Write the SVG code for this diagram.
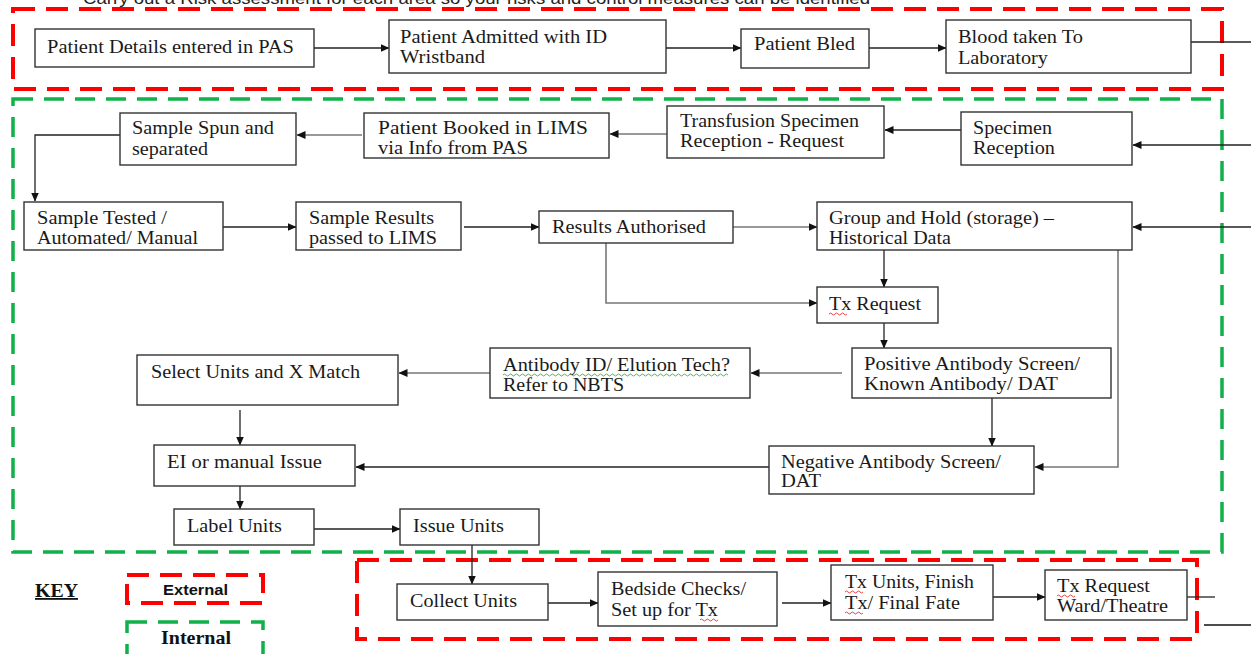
<svg xmlns="http://www.w3.org/2000/svg" width="1251" height="654" viewBox="0 0 1251 654">
<defs>
<marker id="ah" markerWidth="9" markerHeight="8" refX="8.5" refY="4" orient="auto" markerUnits="userSpaceOnUse">
<path d="M0,0 L9,4 L0,8 Z" fill="#111"/>
</marker>
<style>
.box{fill:#fff;stroke:#333;stroke-width:1.4}
.t{font-family:"Liberation Serif","Times New Roman",serif;font-size:18.5px;fill:#1a1a1a}
.c{fill:none;stroke:#222;stroke-width:1.3}
.g{fill:none;stroke:#777;stroke-width:1.6}
.ext{fill:none;stroke:#ff0000;stroke-width:4;stroke-dasharray:22 11}
.int{fill:none;stroke:#10b04a;stroke-width:3.5;stroke-dasharray:20 11}
.wr{fill:none;stroke:#e03030;stroke-width:0.9}
.wg{fill:none;stroke:#40b040;stroke-width:0.9}
</style>
</defs>
<rect width="1251" height="654" fill="#fff"/>
<text x="83" y="4" font-family="Liberation Sans,Arial,sans-serif" font-size="16" fill="#222" textLength="787" lengthAdjust="spacingAndGlyphs">Carry out a Risk assessment  for each area so  your risks  and control measures  can be identified</text>

<g id="regions">
<rect class="ext" x="13" y="9" width="1209" height="80"/>
<rect class="int" x="13" y="99" width="1209" height="453"/>
<rect class="ext" x="357" y="560" width="840" height="79"/>
</g>

<g id="connectors">
<line class="c" x1="314" y1="48" x2="389" y2="48" marker-end="url(#ah)"/>
<line class="c" x1="666" y1="48" x2="741" y2="48" marker-end="url(#ah)"/>
<line class="c" x1="869" y1="48" x2="946" y2="48" marker-end="url(#ah)"/>
<line class="c" x1="1191" y1="42" x2="1251" y2="42"/>
<line class="c" x1="1251" y1="145" x2="1133" y2="145" marker-end="url(#ah)"/>
<line class="c" x1="961" y1="130" x2="885" y2="130" marker-end="url(#ah)"/>
<line class="g" x1="667" y1="134" x2="610" y2="134" marker-end="url(#ah)"/>
<line class="g" x1="362" y1="135" x2="297" y2="135" marker-end="url(#ah)"/>
<polyline class="c" points="120,135 35,135 35,201" marker-end="url(#ah)"/>
<line class="c" x1="223" y1="227" x2="296" y2="227" marker-end="url(#ah)"/>
<line class="c" x1="464" y1="227" x2="539" y2="227" marker-end="url(#ah)"/>
<line class="g" x1="733" y1="227" x2="817" y2="227" marker-end="url(#ah)"/>
<line class="c" x1="1251" y1="227" x2="1133" y2="227" marker-end="url(#ah)"/>
<polyline class="g" points="606,243 606,303 817,303" marker-end="url(#ah)"/>
<line class="c" x1="884" y1="250" x2="884" y2="287" marker-end="url(#ah)"/>
<polyline class="g" points="1118,250 1118,467 1035,467" marker-end="url(#ah)"/>
<line class="c" x1="884" y1="323" x2="884" y2="348" marker-end="url(#ah)"/>
<line class="g" x1="842" y1="373" x2="751" y2="373" marker-end="url(#ah)"/>
<line class="g" x1="490" y1="373" x2="399" y2="373" marker-end="url(#ah)"/>
<line class="c" x1="992" y1="398" x2="992" y2="446" marker-end="url(#ah)"/>
<line class="c" x1="240" y1="410" x2="240" y2="445" marker-end="url(#ah)"/>
<line class="c" x1="769" y1="467" x2="356" y2="467" marker-end="url(#ah)"/>
<line class="c" x1="240" y1="486" x2="240" y2="509" marker-end="url(#ah)"/>
<line class="c" x1="314" y1="529" x2="400" y2="529" marker-end="url(#ah)"/>
<line class="c" x1="472" y1="545" x2="472" y2="584" marker-end="url(#ah)"/>
<line class="c" x1="548" y1="603" x2="598" y2="603" marker-end="url(#ah)"/>
<line class="c" x1="782" y1="603" x2="831" y2="603" marker-end="url(#ah)"/>
<line class="c" x1="993" y1="597" x2="1045" y2="597" marker-end="url(#ah)"/>
<line class="c" x1="1187" y1="597" x2="1215" y2="597"/>
<line x1="1204" y1="625" x2="1251" y2="625" stroke="#111" stroke-width="1.6"/>
</g>

<g id="n1"><rect class="box" x="35" y="29" width="279" height="38"/><text class="t" x="47" y="53" textLength="247" lengthAdjust="spacingAndGlyphs">Patient Details  entered in PAS</text></g>
<g id="n2"><rect class="box" x="389" y="20" width="277" height="53"/><text class="t" x="400" y="43" textLength="207" lengthAdjust="spacingAndGlyphs">Patient Admitted with ID</text><text class="t" x="400" y="63" textLength="85" lengthAdjust="spacingAndGlyphs">Wristband</text></g>
<g id="n3"><rect class="box" x="741" y="29" width="128" height="39"/><text class="t" x="754" y="50" textLength="101" lengthAdjust="spacingAndGlyphs">Patient Bled</text></g>
<g id="n4"><rect class="box" x="946" y="20" width="245" height="53"/><text class="t" x="958" y="43" textLength="125" lengthAdjust="spacingAndGlyphs">Blood taken To</text><text class="t" x="958" y="64" textLength="90" lengthAdjust="spacingAndGlyphs">Laboratory</text></g>

<g id="n5"><rect class="box" x="961" y="112" width="171" height="53"/><text class="t" x="973" y="134" textLength="79" lengthAdjust="spacingAndGlyphs">Specimen</text><text class="t" x="973" y="154" textLength="82" lengthAdjust="spacingAndGlyphs">Reception</text></g>
<g id="n6"><rect class="box" x="667" y="106" width="217" height="52"/><text class="t" x="680" y="127" textLength="179" lengthAdjust="spacingAndGlyphs">Transfusion  Specimen</text><text class="t" x="680" y="147" textLength="164" lengthAdjust="spacingAndGlyphs">Reception - Request</text></g>
<g id="n7"><rect class="box" x="364" y="113" width="245" height="45"/><text class="t" x="378" y="134" textLength="210" lengthAdjust="spacingAndGlyphs">Patient Booked in LIMS</text><text class="t" x="378" y="154" textLength="150" lengthAdjust="spacingAndGlyphs">via Info from PAS</text></g>
<g id="n8"><rect class="box" x="120" y="113" width="176" height="52"/><text class="t" x="132" y="134" textLength="142" lengthAdjust="spacingAndGlyphs">Sample Spun and</text><text class="t" x="132" y="155" textLength="76" lengthAdjust="spacingAndGlyphs">separated</text></g>

<g id="n9"><rect class="box" x="24" y="202" width="199" height="48"/><text class="t" x="37" y="224" textLength="130" lengthAdjust="spacingAndGlyphs">Sample Tested /</text><text class="t" x="37" y="244" textLength="161" lengthAdjust="spacingAndGlyphs">Automated/ Manual</text></g>
<g id="n10"><rect class="box" x="296" y="202" width="165" height="48"/><text class="t" x="309" y="224" textLength="125" lengthAdjust="spacingAndGlyphs">Sample Results</text><text class="t" x="309" y="244" textLength="128" lengthAdjust="spacingAndGlyphs">passed to LIMS</text></g>
<g id="n11"><rect class="box" x="539" y="211" width="194" height="32"/><text class="t" x="552" y="233" textLength="154" lengthAdjust="spacingAndGlyphs">Results Authorised</text></g>
<g id="n12"><rect class="box" x="817" y="202" width="315" height="48"/><text class="t" x="829" y="224" textLength="225" lengthAdjust="spacingAndGlyphs">Group and Hold (storage) –</text><text class="t" x="829" y="244" textLength="122" lengthAdjust="spacingAndGlyphs">Historical Data</text></g>

<g id="n13"><rect class="box" x="817" y="287" width="121" height="36"/><text class="t" x="829" y="310" textLength="92" lengthAdjust="spacingAndGlyphs">Tx Request</text><path class="wr" d="M829,314 q1.5,-2 3,0 t3,0 t3,0 t3,0 t3,0 t3,0"/></g>

<g id="n14"><rect class="box" x="852" y="348" width="259" height="50"/><text class="t" x="864" y="370" textLength="216" lengthAdjust="spacingAndGlyphs">Positive Antibody Screen/</text><text class="t" x="864" y="390" textLength="194" lengthAdjust="spacingAndGlyphs">Known Antibody/ DAT</text></g>
<g id="n15"><rect class="box" x="490" y="348" width="260" height="50"/><text class="t" x="503" y="371" textLength="227" lengthAdjust="spacingAndGlyphs">Antibody ID/ Elution Tech?</text><text class="t" x="503" y="391" textLength="121" lengthAdjust="spacingAndGlyphs">Refer to NBTS</text><path class="wg" d="M503,375 q1.5,-2 3,0 t3,0 t3,0 t3,0 t3,0 t3,0 t3,0 t3,0 t3,0 t3,0 t3,0 t3,0 t3,0 t3,0 t3,0 t3,0 t3,0 t3,0 t3,0 t3,0 t3,0 t3,0 t3,0 t3,0 t3,0 t3,0 t3,0 t3,0 t3,0 t3,0 t3,0 t3,0 t3,0 t3,0 t3,0 t3,0 t3,0 t3,0 t3,0 t3,0 t3,0 t3,0 t3,0 t3,0 t3,0 t3,0 t3,0 t3,0 t3,0 t3,0 t3,0 t3,0 t3,0 t3,0 t3,0 t3,0 t3,0 t3,0 t3,0 t3,0 t3,0 t3,0 t3,0 t3,0 t3,0 t3,0 t3,0 t3,0 t3,0 t3,0 t3,0 t3,0 t3,0 t3,0 t3,0"/></g>
<g id="n16"><rect class="box" x="137" y="355" width="261" height="50"/><text class="t" x="151" y="378" textLength="209" lengthAdjust="spacingAndGlyphs">Select Units and X Match</text></g>

<g id="n17"><rect class="box" x="154" y="445" width="201" height="41"/><text class="t" x="167" y="468" textLength="155" lengthAdjust="spacingAndGlyphs">EI or manual  Issue</text></g>
<g id="n18"><rect class="box" x="769" y="446" width="265" height="48"/><text class="t" x="781" y="468" textLength="220" lengthAdjust="spacingAndGlyphs">Negative Antibody Screen/</text><text class="t" x="781" y="487" textLength="40" lengthAdjust="spacingAndGlyphs">DAT</text></g>

<g id="n19"><rect class="box" x="174" y="509" width="140" height="36"/><text class="t" x="187" y="532" textLength="95" lengthAdjust="spacingAndGlyphs">Label Units</text></g>
<g id="n20"><rect class="box" x="400" y="509" width="139" height="36"/><text class="t" x="413" y="532" textLength="91" lengthAdjust="spacingAndGlyphs">Issue Units</text></g>

<g id="n21"><rect class="box" x="397" y="584" width="151" height="36"/><text class="t" x="410" y="607" textLength="107" lengthAdjust="spacingAndGlyphs">Collect Units</text></g>
<g id="n22"><rect class="box" x="598" y="572" width="179" height="54"/><text class="t" x="611" y="595" textLength="135" lengthAdjust="spacingAndGlyphs">Bedside Checks/</text><text class="t" x="611" y="616" textLength="107" lengthAdjust="spacingAndGlyphs">Set up for Tx</text><path class="wr" d="M700,620 q1.5,-2 3,0 t3,0 t3,0 t3,0 t3,0 t3,0"/></g>
<g id="n23"><rect class="box" x="831" y="565" width="162" height="55"/><text class="t" x="845" y="588" textLength="129" lengthAdjust="spacingAndGlyphs">Tx Units, Finish</text><text class="t" x="845" y="609" textLength="115" lengthAdjust="spacingAndGlyphs">Tx/ Final Fate</text><path class="wr" d="M845,592 q1.5,-2 3,0 t3,0 t3,0 t3,0 t3,0 t3,0"/><path class="wr" d="M845,613 q1.5,-2 3,0 t3,0 t3,0 t3,0 t3,0 t3,0"/></g>
<g id="n24"><rect class="box" x="1045" y="570" width="142" height="50"/><text class="t" x="1057" y="592" textLength="93" lengthAdjust="spacingAndGlyphs">Tx Request</text><text class="t" x="1057" y="612" textLength="111" lengthAdjust="spacingAndGlyphs">Ward/Theatre</text><path class="wr" d="M1057,596 q1.5,-2 3,0 t3,0 t3,0 t3,0 t3,0 t3,0"/></g>

<g id="key">
<text x="35" y="597" font-family="Liberation Serif,serif" font-size="18" font-weight="bold" fill="#111" text-decoration="underline" textLength="43" lengthAdjust="spacingAndGlyphs">KEY</text>
<rect class="ext" x="127" y="575" width="136" height="28" stroke-width="3.5"/>
<text x="163" y="595" font-family="Liberation Sans,Arial,sans-serif" font-size="15" font-weight="bold" fill="#111" textLength="65" lengthAdjust="spacingAndGlyphs">External</text>
<rect class="int" x="127" y="622" width="136" height="40" stroke-width="3.5"/>
<text x="161" y="644" font-family="Liberation Serif,serif" font-size="19" font-weight="bold" fill="#111" textLength="70" lengthAdjust="spacingAndGlyphs">Internal</text>
</g>
</svg>
